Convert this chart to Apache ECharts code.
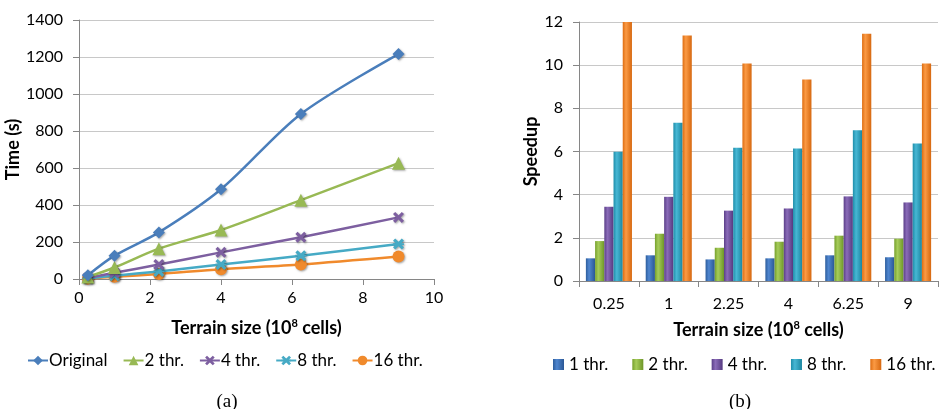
<!DOCTYPE html>
<html>
<head>
<meta charset="utf-8">
<script src="https://cdn.jsdelivr.net/npm/echarts@6/dist/echarts.min.js"></script>
<style>
html,body{margin:0;padding:0;background:#fff;}
#c{width:942px;height:409px;}
</style>
</head>
<body>
<div id="c"></div>
<script>
// ---- data ----
const sizes = [0.25, 1, 2.25, 4, 6.25, 9];
const timeSeriesNames = ['Original', '2 thr.', '4 thr.', '8 thr.', '16 thr.'];
const timeOriginal = [20, 126, 252, 485, 892, 1216];
const time2 = [11, 62, 164, 265, 426, 626];
const time4 = [6, 34, 78, 144, 226, 333];
const time8 = [3, 18, 41, 78, 126, 189];
const time16 = [2, 12, 27, 53, 78, 121];

const sizeCategories = ['0.25', '1', '2.25', '4', '6.25', '9'];
const speedSeriesNames = ['1 thr.', '2 thr.', '4 thr.', '8 thr.', '16 thr.'];
const speed1 = [1.05, 1.19, 1.00, 1.05, 1.19, 1.10];
const speed2 = [1.85, 2.19, 1.54, 1.82, 2.10, 1.96];
const speed4 = [3.44, 3.90, 3.26, 3.36, 3.92, 3.64];
const speed8 = [5.99, 7.33, 6.17, 6.14, 6.98, 6.37];
const speed16 = [12.0, 11.37, 10.08, 9.34, 11.45, 10.08];

// ---- styles ----
const FONT = 'Lato';
const BAR_PREFIX = 'b:';
const lineColors = ['#4a7ebb', '#98b954', '#7d5fa0', '#46aac5', '#f08a2c'];
const markerSymbols = [
  'diamond',
  'triangle',
  'path://M0,2L2,0L5,3L8,0L10,2L7,5L10,8L8,10L5,7L2,10L0,8L3,5Z',
  'path://M0,2L2,0L5,3L8,0L10,2L7,5L10,8L8,10L5,7L2,10L0,8L3,5Z M0,4.2L10,4.2L10,5.8L0,5.8Z',
  'circle'
];
const markerSizes = [12, 13, 11, 11, 12];
const barColors = [
  ['#2d5d9c', '#4f86cf', '#2a5795'],
  ['#76a02c', '#a6cc5a', '#6e9628'],
  ['#5b3f88', '#8a6bb8', '#553a80'],
  ['#1f8eaa', '#47b7d4', '#1b86a0'],
  ['#dd6d12', '#fb9a44', '#d66810']
];
const timeData = [timeOriginal, time2, time4, time8, time16];
const speedData = [speed1, speed2, speed4, speed8, speed16];

const axisLabelStyle = {color: '#000', fontFamily: FONT, fontSize: 16};
const axisLineStyle = {lineStyle: {color: '#868686', width: 1}};
const gridLineStyle = {lineStyle: {color: '#c8c8c8', width: 1}};
const nameRich = {
  b: {fontFamily: FONT, fontWeight: 'bold', fontSize: 18, color: '#000', lineHeight: 22},
  sup: {fontFamily: FONT, fontWeight: 'bold', fontSize: 11, color: '#000', lineHeight: 22, padding: [0, 0, 9, 0]}
};

const chart = echarts.init(document.getElementById('c'), null, {renderer: 'canvas'});

const series = [];
timeSeriesNames.forEach((n, i) => {
  series.push({
    type: 'line', name: n, xAxisIndex: 0, yAxisIndex: 0,
    data: sizes.map((s, k) => [s, timeData[i][k]]),
    smooth: 0.3,
    symbol: markerSymbols[i], symbolSize: markerSizes[i],
    lineStyle: {color: lineColors[i], width: 2.5},
    itemStyle: {color: lineColors[i], shadowColor: 'rgba(0,0,0,0.35)', shadowBlur: 2, shadowOffsetX: 1, shadowOffsetY: 1},
    z: 10 - i
  });
});
speedSeriesNames.forEach((n, i) => {
  const c = barColors[i];
  series.push({
    type: 'bar', name: BAR_PREFIX + n, xAxisIndex: 1, yAxisIndex: 1,
    data: speedData[i],
    barGap: '0%', barCategoryGap: '23%',
    itemStyle: {
      color: new echarts.graphic.LinearGradient(0, 0, 1, 0, [
        {offset: 0, color: c[0]}, {offset: 0.35, color: c[1]}, {offset: 1, color: c[2]}
      ])
    }
  });
});

chart.setOption({
  animation: false,
  backgroundColor: '#fff',
  textStyle: {fontFamily: FONT},
  title: [
    {text: '(a)', left: 222, top: 388, textAlign: 'center',
     textStyle: {fontFamily: 'Liberation Serif', fontWeight: 'normal', fontSize: 19, color: '#000'}},
    {text: '(b)', left: 735, top: 388, textAlign: 'center',
     textStyle: {fontFamily: 'Liberation Serif', fontWeight: 'normal', fontSize: 19, color: '#000'}}
  ],
  legend: [
    {data: timeSeriesNames, left: 22, top: 347, itemGap: 15, itemWidth: 20, itemHeight: 12,
     textStyle: {fontFamily: FONT, fontSize: 17, color: '#000', padding: [0, 0, 0, -4]}},
    {data: speedSeriesNames.map(n => BAR_PREFIX + n), left: 548, top: 351, itemGap: 24, itemWidth: 11, itemHeight: 11,
     icon: 'rect',
     formatter: name => name.replace(BAR_PREFIX, ''),
     textStyle: {fontFamily: FONT, fontSize: 17, color: '#000'}}
  ],
  grid: [
    {left: 79, top: 20, width: 355, height: 259, containLabel: false},
    {left: 579, top: 22, width: 359, height: 259, containLabel: false}
  ],
  xAxis: [
    {type: 'value', gridIndex: 0, min: 0, max: 10, interval: 2,
     axisLine: {show: true, onZero: false, ...axisLineStyle},
     axisTick: {show: true, length: 6, lineStyle: {color: '#868686'}},
     axisLabel: {...axisLabelStyle, margin: 11},
     splitLine: {show: false},
     name: '{b|Terrain size (10}{sup|8}{b| cells)}', nameLocation: 'middle', nameGap: 38,
     nameTextStyle: {rich: nameRich}},
    {type: 'category', gridIndex: 1, data: sizeCategories, boundaryGap: true,
     axisLine: {show: true, ...axisLineStyle},
     axisTick: {show: true, length: 6, alignWithLabel: false, lineStyle: {color: '#868686'}},
     axisLabel: {...axisLabelStyle, margin: 15},
     splitLine: {show: false},
     name: '{b|Terrain size (10}{sup|8}{b| cells)}', nameLocation: 'middle', nameGap: 38,
     nameTextStyle: {rich: nameRich}}
  ],
  yAxis: [
    {type: 'value', gridIndex: 0, min: 0, max: 1400, interval: 200,
     axisLine: {show: true, ...axisLineStyle},
     axisTick: {show: true, length: 6, lineStyle: {color: '#868686'}},
     axisLabel: {...axisLabelStyle, margin: 16, formatter: v => String(v)},
     splitLine: gridLineStyle,
     name: 'Time (s)', nameLocation: 'middle', nameGap: 46,
     nameTextStyle: {fontFamily: FONT, fontWeight: 'bold', fontSize: 18, color: '#000'}},
    {type: 'value', gridIndex: 1, min: 0, max: 12, interval: 2,
     axisLine: {show: true, ...axisLineStyle},
     axisTick: {show: true, length: 6, lineStyle: {color: '#868686'}},
     axisLabel: {...axisLabelStyle, margin: 16, formatter: v => String(v)},
     splitLine: gridLineStyle,
     name: 'Speedup', nameLocation: 'middle', nameGap: 38,
     nameTextStyle: {fontFamily: FONT, fontWeight: 'bold', fontSize: 18, color: '#000'}}
  ],
  series: series
});
</script>
</body>
</html>
